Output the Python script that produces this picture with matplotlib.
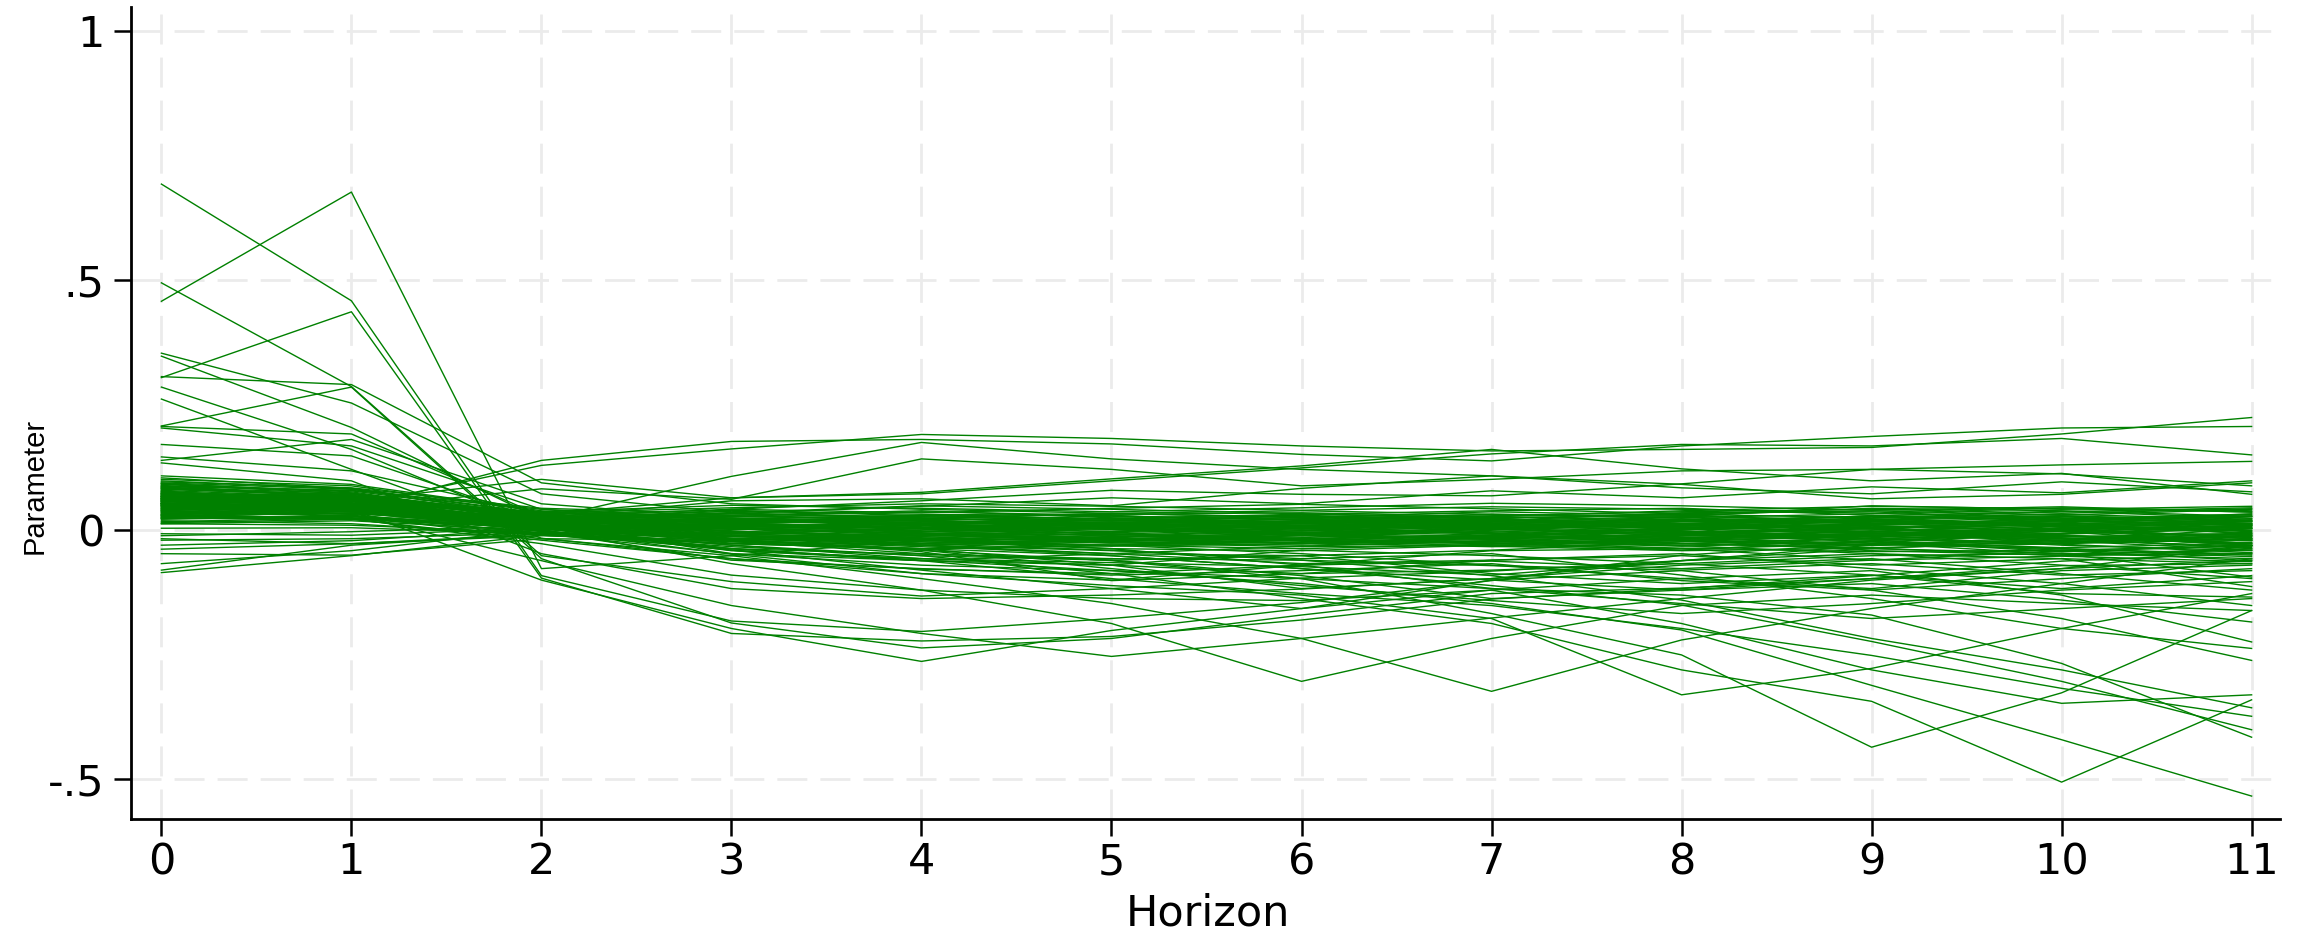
"""Spaghetti plot of estimated parameters by horizon."""

import matplotlib

matplotlib.use("Agg")
import matplotlib.pyplot as plt

HORIZON = list(range(12))

# large values at horizons 0-1 that collapse by horizon 2
LEFT_OUTLIERS = [
    [0.693, 0.459, -0.092, -0.183, -0.204, -0.178, -0.146, -0.102, -0.051, -0.028, 0.004, -0.018],
    [0.458, 0.677, -0.078, -0.052, -0.021, 0.012, 0.031, 0.024, 0.003, -0.027, -0.049, -0.041],
    [0.495, 0.287, -0.052, -0.104, -0.133, -0.118, -0.097, -0.083, -0.062, -0.038, -0.021, 0.002],
    [0.305, 0.437, -0.097, -0.208, -0.223, -0.214, -0.181, -0.139, -0.118, -0.092, -0.063, -0.047],
    [0.354, 0.254, 0.072, 0.034, 0.022, 0.018, 0.012, 0.004, 0.011, 0.019, 0.013, 0.002],
    [0.348, 0.205, 0.021, -0.018, -0.027, -0.022, -0.012, 0.002, 0.008, 0.001, -0.003, 0.009],
    [0.307, 0.291, 0.094, 0.052, 0.041, 0.033, 0.024, 0.018, 0.012, 0.004, 0.009, -0.002],
    [0.286, 0.161, 0.003, -0.021, -0.034, -0.048, -0.033, -0.022, -0.031, -0.024, -0.041, -0.032],
    [0.262, 0.121, -0.017, -0.058, -0.079, -0.088, -0.071, -0.063, -0.078, -0.061, -0.053, -0.064],
    [0.208, 0.286, -0.058, -0.187, -0.237, -0.218, -0.171, -0.128, -0.117, -0.098, -0.078, -0.061],
    [0.207, 0.192, 0.028, 0.003, -0.008, -0.017, -0.021, -0.012, 0.002, 0.011, 0.018, 0.027],
    [0.204, 0.168, 0.041, 0.012, 0.004, 0.001, 0.008, 0.013, 0.019, 0.027, 0.021, 0.016],
    [0.171, 0.148, 0.018, -0.023, -0.048, -0.061, -0.052, -0.041, -0.024, -0.012, -0.003, -0.011],
    [0.146, 0.118, 0.032, -0.008, -0.019, -0.038, -0.042, -0.031, -0.022, -0.029, -0.038, -0.049],
    [0.139, 0.181, 0.052, 0.023, 0.011, 0.002, -0.007, 0.003, 0.012, 0.008, -0.002, 0.004],
    [0.134, 0.098, -0.048, -0.118, -0.138, -0.131, -0.119, -0.098, -0.062, -0.031, -0.018, -0.027],
]

# series that drift upwards after horizon 2
UPPER_OUTLIERS = [
    [0.052, 0.041, 0.139, 0.177, 0.181, 0.172, 0.151, 0.138, 0.168, 0.187, 0.204, 0.207],
    [0.061, 0.048, 0.129, 0.162, 0.191, 0.183, 0.168, 0.158, 0.161, 0.165, 0.192, 0.225],
    [0.043, 0.032, 0.021, 0.107, 0.175, 0.142, 0.121, 0.108, 0.091, 0.062, 0.071, 0.094],
    [0.072, 0.058, 0.101, 0.064, 0.072, 0.098, 0.124, 0.152, 0.171, 0.168, 0.183, 0.150],
    [0.031, 0.043, 0.082, 0.061, 0.142, 0.121, 0.088, 0.101, 0.118, 0.121, 0.130, 0.137],
    [0.024, 0.021, 0.031, 0.064, 0.075, 0.102, 0.128, 0.161, 0.122, 0.098, 0.113, 0.071],
    [0.054, 0.038, 0.012, 0.041, 0.058, 0.079, 0.071, 0.068, 0.092, 0.121, 0.112, 0.088],
    [0.066, 0.052, 0.024, 0.058, 0.062, 0.048, 0.083, 0.108, 0.084, 0.072, 0.096, 0.076],
    [0.047, 0.036, 0.018, 0.032, 0.047, 0.064, 0.052, 0.078, 0.064, 0.086, 0.074, 0.098],
]

# series that drift downwards after horizon 2
LOWER_OUTLIERS = [
    [0.048, 0.041, -0.101, -0.198, -0.264, -0.202, -0.158, -0.121, -0.098, -0.118, -0.082, -0.071],
    [0.038, 0.031, -0.062, -0.152, -0.208, -0.254, -0.218, -0.177, -0.138, -0.101, -0.078, -0.032],
    [0.031, 0.022, -0.028, -0.091, -0.121, -0.188, -0.304, -0.218, -0.152, -0.131, -0.148, -0.162],
    [0.022, 0.028, -0.018, -0.052, -0.098, -0.148, -0.218, -0.324, -0.221, -0.158, -0.108, -0.058],
    [0.014, 0.021, -0.021, -0.058, -0.088, -0.112, -0.131, -0.178, -0.331, -0.278, -0.198, -0.128],
    [0.058, 0.052, 0.002, -0.038, -0.061, -0.082, -0.108, -0.148, -0.201, -0.312, -0.421, -0.534],
    [0.041, 0.048, 0.011, -0.021, -0.041, -0.062, -0.098, -0.168, -0.251, -0.436, -0.327, -0.162],
    [0.032, 0.038, 0.003, -0.031, -0.052, -0.088, -0.138, -0.188, -0.281, -0.344, -0.506, -0.341],
    [0.024, 0.037, 0.008, -0.018, -0.031, -0.052, -0.078, -0.112, -0.151, -0.224, -0.304, -0.401],
    [0.051, 0.046, -0.003, -0.041, -0.062, -0.098, -0.128, -0.152, -0.198, -0.252, -0.318, -0.374],
    [0.068, 0.058, 0.018, -0.012, -0.028, -0.041, -0.061, -0.092, -0.141, -0.218, -0.281, -0.357],
    [0.041, 0.031, -0.008, -0.048, -0.071, -0.082, -0.098, -0.118, -0.131, -0.171, -0.268, -0.416],
    [0.028, 0.047, 0.001, -0.068, -0.121, -0.138, -0.142, -0.121, -0.188, -0.281, -0.348, -0.331],
    [0.062, 0.044, 0.021, -0.018, -0.022, -0.031, -0.048, -0.071, -0.098, -0.082, -0.131, -0.225],
    [0.018, 0.012, -0.011, -0.028, -0.038, -0.052, -0.078, -0.101, -0.121, -0.108, -0.141, -0.185],
    [0.052, 0.058, 0.009, -0.041, -0.081, -0.118, -0.158, -0.101, -0.082, -0.121, -0.178, -0.262],
    [0.012, 0.018, -0.002, -0.031, -0.058, -0.071, -0.041, -0.052, -0.068, -0.091, -0.128, -0.135],
    [0.021, 0.028, 0.001, -0.012, -0.031, -0.048, -0.068, -0.061, -0.052, -0.071, -0.058, -0.114],
    [0.045, 0.039, 0.006, -0.038, -0.049, -0.058, -0.061, -0.072, -0.081, -0.068, -0.091, -0.082],
    [0.067, 0.054, 0.014, -0.048, -0.062, -0.071, -0.088, -0.081, -0.068, -0.052, -0.048, -0.095],
    [0.035, 0.041, -0.004, -0.061, -0.078, -0.091, -0.082, -0.068, -0.102, -0.121, -0.098, -0.078],
    [0.026, 0.022, 0.004, -0.042, -0.058, -0.066, -0.074, -0.091, -0.062, -0.048, -0.071, -0.098],
    [0.057, 0.049, 0.012, -0.024, -0.041, -0.078, -0.112, -0.142, -0.168, -0.148, -0.121, -0.104],
    [0.036, 0.027, -0.006, -0.034, -0.052, -0.061, -0.092, -0.138, -0.121, -0.098, -0.072, -0.068],
    [0.049, 0.043, 0.008, -0.027, -0.038, -0.071, -0.118, -0.098, -0.071, -0.058, -0.088, -0.121],
    [0.029, 0.034, 0.002, -0.019, -0.044, -0.102, -0.088, -0.061, -0.048, -0.078, -0.108, -0.152],
    [0.063, 0.051, 0.016, -0.014, -0.024, -0.038, -0.071, -0.118, -0.148, -0.178, -0.158, -0.138],
    [0.039, 0.045, 0.004, -0.022, -0.031, -0.042, -0.058, -0.048, -0.091, -0.138, -0.198, -0.238],
    [0.053, 0.036, -0.001, -0.049, -0.088, -0.101, -0.071, -0.042, -0.038, -0.061, -0.042, -0.062],
    [0.016, 0.024, -0.009, -0.038, -0.062, -0.048, -0.052, -0.088, -0.108, -0.091, -0.118, -0.092],
]

# series starting below zero
NEGATIVE_START = [
    [-0.086, -0.052, -0.011, -0.021, -0.038, -0.031, -0.018, -0.027, -0.041, -0.022, -0.012, -0.031],
    [-0.081, -0.031, -0.008, 0.002, -0.011, -0.019, -0.008, 0.001, 0.011, 0.003, 0.018, 0.009],
    [-0.068, -0.042, 0.001, -0.012, -0.022, -0.014, -0.002, -0.011, -0.021, -0.032, -0.013, -0.022],
    [-0.008, -0.011, 0.003, 0.011, 0.002, -0.009, -0.021, -0.028, -0.018, -0.007, 0.004, 0.012],
    [-0.021, -0.018, -0.006, -0.028, -0.038, -0.032, -0.019, -0.011, 0.002, 0.011, 0.021, 0.008],
    [-0.031, -0.022, 0.002, 0.004, 0.012, 0.003, -0.008, 0.002, 0.013, 0.021, 0.028, 0.018],
    [-0.039, -0.028, -0.009, -0.012, -0.021, -0.031, -0.038, -0.029, -0.021, -0.042, -0.051, -0.038],
    [-0.048, -0.051, -0.018, -0.022, -0.012, -0.003, 0.002, -0.008, -0.028, -0.018, -0.011, -0.031],
    [-0.018, -0.028, -0.012, -0.024, -0.031, -0.022, -0.011, -0.019, -0.032, -0.048, -0.058, -0.068],
    [-0.012, -0.004, 0.008, 0.021, 0.018, 0.009, 0.014, 0.022, 0.012, -0.004, -0.012, -0.021],
]

# dense band around zero
BAND = [
    [0.082, 0.071, 0.031, 0.022, 0.014, 0.006, 0.012, 0.021, 0.013, 0.004, -0.008, 0.002],
    [0.071, 0.062, 0.024, 0.013, 0.018, 0.027, 0.021, 0.012, 0.003, 0.011, 0.022, 0.031],
    [0.093, 0.074, 0.022, 0.004, -0.007, -0.011, -0.002, 0.009, 0.018, 0.012, 0.001, -0.018],
    [0.058, 0.052, 0.012, -0.008, -0.018, -0.012, -0.021, -0.028, -0.019, -0.012, -0.031, -0.042],
    [0.104, 0.083, 0.033, 0.029, 0.038, 0.024, 0.013, 0.002, -0.009, 0.003, 0.012, 0.019],
    [0.052, 0.047, 0.019, 0.021, 0.011, 0.014, 0.022, 0.031, 0.027, 0.018, 0.008, 0.012],
    [0.068, 0.061, 0.011, -0.017, -0.028, -0.031, -0.024, -0.018, -0.011, -0.021, -0.038, -0.051],
    [0.079, 0.064, 0.027, 0.041, 0.034, 0.043, 0.051, 0.042, 0.032, 0.038, 0.029, 0.041],
    [0.061, 0.043, 0.004, -0.009, 0.002, 0.011, 0.004, -0.006, -0.018, -0.027, -0.021, -0.012],
    [0.088, 0.079, 0.041, 0.023, 0.006, -0.014, -0.008, 0.003, 0.012, 0.028, 0.037, 0.023],
    [0.043, 0.039, 0.012, 0.002, 0.008, 0.001, -0.011, -0.019, -0.028, -0.038, -0.047, -0.058],
    [0.073, 0.068, 0.029, 0.014, 0.021, 0.018, 0.027, 0.022, 0.011, 0.002, -0.012, -0.022],
    [0.047, 0.041, 0.021, 0.032, 0.024, 0.013, 0.006, 0.011, 0.002, -0.008, 0.001, 0.009],
    [0.108, 0.091, 0.038, 0.012, -0.004, 0.003, 0.018, 0.027, 0.038, 0.047, 0.042, 0.036],
    [0.064, 0.049, 0.002, -0.021, -0.014, -0.026, -0.034, -0.031, -0.038, -0.029, -0.022, -0.041],
    [0.077, 0.058, 0.017, 0.006, 0.012, 0.019, 0.009, 0.001, -0.008, -0.018, -0.009, 0.003],
    [0.034, 0.032, 0.014, 0.022, 0.029, 0.021, 0.014, 0.023, 0.031, 0.024, 0.036, 0.044],
    [0.069, 0.053, 0.009, -0.002, -0.018, -0.021, -0.012, -0.003, 0.001, 0.008, -0.004, -0.028],
    [0.091, 0.072, 0.028, 0.019, 0.023, 0.012, 0.002, -0.007, 0.004, 0.019, 0.026, 0.011],
    [0.057, 0.059, 0.018, 0.009, 0.001, -0.008, -0.017, -0.012, -0.027, -0.036, -0.028, -0.019],
    [0.023, 0.021, 0.003, -0.011, -0.019, -0.027, -0.021, -0.033, -0.042, -0.037, -0.052, -0.047],
    [0.084, 0.069, 0.023, 0.034, 0.048, 0.041, 0.032, 0.024, 0.028, 0.043, 0.038, 0.027],
    [0.049, 0.051, 0.013, 0.011, 0.003, -0.003, 0.008, 0.002, -0.012, -0.002, -0.018, -0.009],
    [0.098, 0.082, 0.031, 0.003, -0.021, -0.033, -0.028, -0.012, -0.003, -0.019, -0.027, -0.013],
    [0.066, 0.063, 0.022, 0.018, 0.012, 0.023, 0.031, 0.038, 0.043, 0.029, 0.019, 0.004],
    [0.039, 0.028, 0.001, 0.003, -0.009, -0.018, -0.027, -0.022, -0.013, -0.008, -0.021, -0.033],
    [0.058, 0.048, 0.024, 0.037, 0.031, 0.028, 0.019, 0.012, 0.021, 0.013, 0.027, 0.018],
    [0.087, 0.078, 0.029, 0.013, 0.004, 0.009, 0.001, 0.013, 0.022, 0.003, -0.011, -0.031],
    [0.053, 0.042, 0.008, -0.012, -0.027, -0.019, -0.009, -0.026, -0.037, -0.044, -0.041, -0.054],
    [0.081, 0.068, 0.019, 0.012, 0.019, 0.004, -0.006, 0.002, 0.009, 0.021, 0.012, 0.017],
    [0.029, 0.024, 0.006, 0.013, 0.004, 0.011, 0.018, 0.009, -0.002, -0.012, -0.003, -0.014],
    [0.072, 0.054, 0.013, 0.018, 0.008, -0.009, -0.018, -0.024, -0.017, -0.003, 0.008, -0.002],
    [0.063, 0.057, 0.027, 0.028, 0.022, 0.033, 0.038, 0.031, 0.024, 0.032, 0.044, 0.038],
    [0.101, 0.088, 0.036, 0.021, 0.009, 0.002, -0.009, -0.016, -0.008, 0.002, -0.017, -0.038],
    [0.044, 0.037, 0.009, 0.001, 0.012, 0.019, 0.013, 0.004, 0.008, 0.017, 0.011, -0.004],
    [0.076, 0.062, 0.012, -0.006, -0.013, -0.009, 0.002, 0.016, 0.009, -0.007, -0.024, -0.018],
    [0.067, 0.071, 0.019, 0.002, -0.003, 0.008, 0.017, 0.004, -0.009, -0.024, -0.036, -0.027],
    [0.054, 0.046, 0.022, 0.027, 0.036, 0.029, 0.012, 0.018, 0.034, 0.036, 0.021, 0.028],
    [0.089, 0.063, 0.016, 0.008, -0.002, -0.017, -0.026, -0.034, -0.028, -0.016, 0.003, 0.007],
    [0.059, 0.038, 0.003, -0.014, -0.008, 0.003, 0.009, -0.002, -0.016, -0.011, -0.018, -0.036],
    [0.012, 0.009, -0.006, -0.018, -0.011, -0.021, -0.028, -0.013, -0.004, -0.017, -0.029, -0.046],
    [0.003, 0.004, -0.008, -0.006, 0.003, 0.012, 0.006, -0.007, -0.016, -0.009, 0.002, -0.016],
    [0.078, 0.051, 0.018, 0.004, 0.016, 0.011, 0.003, -0.009, -0.021, -0.013, 0.007, 0.016],
    [0.074, 0.059, 0.013, 0.009, -0.006, -0.024, -0.016, 0.002, 0.016, 0.027, 0.018, 0.011],
    [0.062, 0.053, 0.017, 0.001, 0.009, 0.002, -0.012, -0.019, -0.009, 0.007, -0.002, -0.021],
    [0.096, 0.084, 0.043, 0.032, 0.026, 0.018, 0.024, 0.036, 0.029, 0.016, 0.008, 0.022],
    [0.085, 0.073, 0.026, 0.016, 0.027, 0.032, 0.026, 0.017, 0.006, -0.004, 0.014, 0.026],
    [0.056, 0.044, 0.016, 0.024, 0.017, 0.006, -0.003, 0.006, 0.017, 0.023, 0.031, 0.021],
    [0.071, 0.066, 0.034, 0.044, 0.052, 0.047, 0.039, 0.046, 0.041, 0.033, 0.024, 0.013],
    [0.048, 0.036, 0.007, 0.008, -0.004, -0.006, 0.004, 0.013, 0.006, -0.006, -0.014, -0.007],
    [0.092, 0.076, 0.021, -0.004, -0.011, -0.004, 0.007, 0.009, -0.003, -0.014, -0.007, 0.006],
    [0.037, 0.033, 0.016, 0.017, 0.023, 0.031, 0.034, 0.027, 0.018, 0.009, 0.016, 0.032],
    [0.065, 0.056, 0.011, -0.013, -0.022, -0.016, -0.006, -0.014, -0.023, -0.031, -0.026, -0.011],
    [0.083, 0.066, 0.024, 0.027, 0.019, 0.008, 0.016, 0.028, 0.036, 0.041, 0.033, 0.042],
    [0.027, 0.026, 0.009, 0.007, 0.013, 0.016, 0.009, 0.017, 0.024, 0.014, 0.006, -0.006],
    [0.075, 0.064, 0.028, 0.011, 0.003, 0.013, 0.021, 0.014, 0.002, -0.008, -0.016, -0.026],
    [0.061, 0.058, 0.036, 0.049, 0.043, 0.036, 0.044, 0.053, 0.048, 0.039, 0.046, 0.035],
    [0.094, 0.081, 0.027, 0.006, 0.013, 0.023, 0.016, 0.006, -0.006, 0.004, 0.011, -0.008],
    [0.051, 0.044, 0.013, -0.004, -0.016, -0.024, -0.031, -0.024, -0.033, -0.023, -0.044, -0.032],
    [0.086, 0.067, 0.032, 0.039, 0.028, 0.021, 0.029, 0.019, 0.026, 0.048, 0.041, 0.047],
]

Y_TICKS = [-0.5, 0, 0.5, 1]
Y_TICK_LABELS = ["-.5", "0", ".5", "1"]

LINE_COLOR = "#008000"
GRID_COLOR = "#EBEBEB"


def main() -> None:
    fig = plt.figure(figsize=(23.02, 9.34), dpi=100)
    ax = fig.add_axes([0.0569, 0.1231, 0.9336, 0.8694])

    for group in (BAND, NEGATIVE_START, LEFT_OUTLIERS, UPPER_OUTLIERS, LOWER_OUTLIERS):
        for series in group:
            ax.plot(HORIZON, series, color=LINE_COLOR, linewidth=1.0, zorder=3)

    ax.set_xlim(-0.16, 11.15)
    ax.set_ylim(-0.58, 1.048)
    ax.set_xticks(HORIZON)
    ax.set_yticks(Y_TICKS)
    ax.set_yticklabels(Y_TICK_LABELS)

    ax.set_axisbelow(True)
    ax.grid(True, color=GRID_COLOR, linewidth=2.0, linestyle=(0, (10.8, 4.7)))

    for side in ("top", "right"):
        ax.spines[side].set_visible(False)
    for side in ("left", "bottom"):
        ax.spines[side].set_linewidth(2.0)

    ax.tick_params(axis="both", length=12, width=1.8, labelsize=31, direction="out")
    ax.tick_params(axis="x", pad=4)
    ax.tick_params(axis="y", pad=7)

    fig.text(1208 / 2302, 1 - 913 / 934, "Horizon", ha="center", va="center", fontsize=31)
    fig.text(35 / 2302, 1 - 486 / 934, "Parameter", ha="center", va="center",
             rotation=90, fontsize=21, family=["Liberation Sans", "DejaVu Sans"])

    fig.savefig("out.png", dpi=100)


if __name__ == "__main__":
    main()
